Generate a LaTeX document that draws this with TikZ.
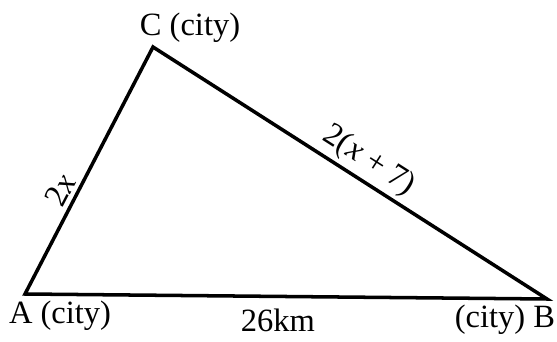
\documentclass[tikz,border=0pt]{standalone}
\usepackage{fontspec}
\setmainfont{Liberation Serif}
\usepackage{tikz}
\tikzset{
  city/.style={inner sep=0pt,font=\fontsize{18.5}{21}\selectfont},
  side/.style={sloped,above,inner sep=3pt,font=\fontsize{18.5}{21}\selectfont},
  edge/.style={line width=2pt,line join=miter}
}

\begin{document}
\begin{tikzpicture}[x=0.02cm,y=0.02cm]
\useasboundingbox (0,0) rectangle (557,341);
\coordinate (A) at (25,47);
\coordinate (B) at (547,42);
\coordinate (C) at (153,294);
\draw[edge] (A) -- (B) -- (C) -- cycle;
\path (A) -- (C) node[side, pos=0.39] (ac) {2\textit{x}};
\path (C) -- (B) node[side, pos=0.52] (cb) {2(\textit{x} + 7)};
\node[city] (cl) at (190,313) {C (city)};
\node[city] (al) at (60,25) {A (city)};
\node[city] (ab) at (278,21) {26km};
\node[city] (bl) at (505,21) {(city) B};
\end{tikzpicture}
\end{document}
